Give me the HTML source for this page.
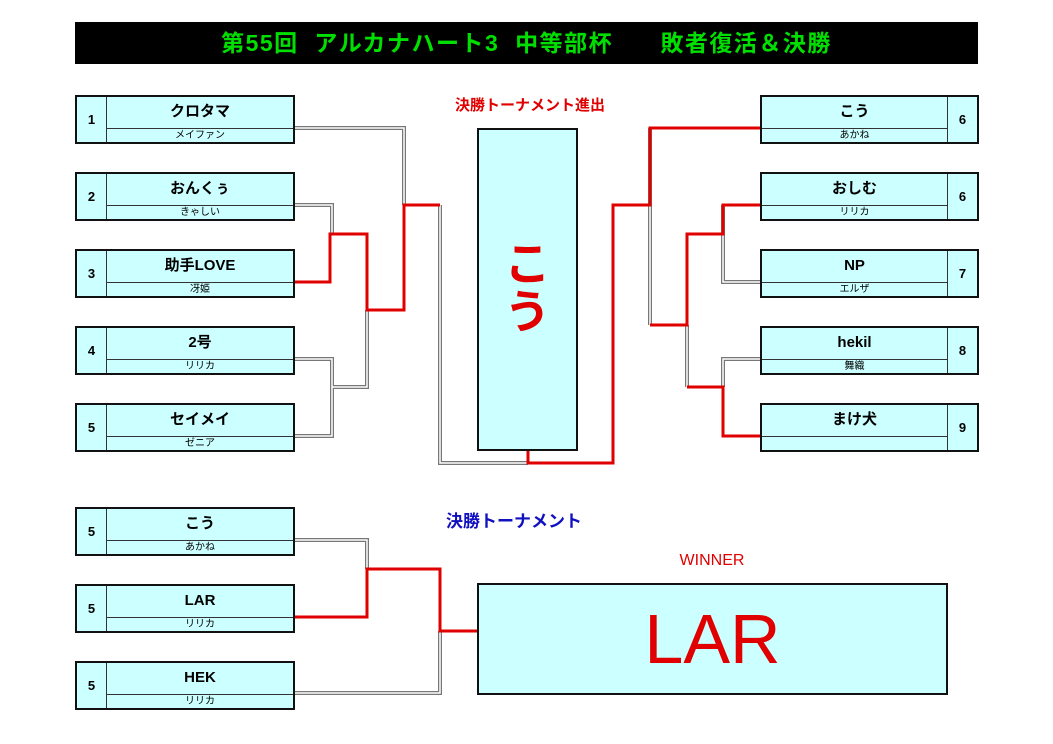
<!DOCTYPE html>
<html><head><meta charset="utf-8"><style>
body{margin:0;width:1053px;height:744px;background:#fff;position:relative;overflow:hidden;font-family:"Liberation Sans","Noto Sans CJK JP",sans-serif;}
.b{position:absolute;width:220px;height:49px;box-sizing:border-box;border:2px solid #111;background:#ccffff;}
.n{position:absolute;top:0;width:29px;height:45px;line-height:45px;text-align:center;font-weight:bold;font-size:13px;}
.L .n{left:0;border-right:1px solid #333;}
.R .n{right:0;border-left:1px solid #333;}
.nm{position:absolute;top:2px;height:28px;line-height:26px;text-align:center;font-weight:bold;font-size:15px;}
.L .nm,.L .s{left:30px;right:0}
.R .nm,.R .s{left:0;right:30px}
.s{position:absolute;top:31px;height:14px;border-top:1px solid #333;font-size:10px;line-height:14px;text-align:center;}
.t{position:absolute;}
svg{position:absolute;left:0;top:0}
</style></head><body>
<div class="t" style="left:75px;top:22px;width:903px;height:42px;background:#000;"></div>
<div class="t" style="left:75px;top:22px;width:903px;height:42px;line-height:42px;text-align:center;color:#00e000;font-weight:bold;font-size:23px;letter-spacing:1.5px;white-space:pre;">第55回  アルカナハート3  中等部杯      敗者復活＆決勝</div>

<svg width="1053" height="744">
<g fill="none" stroke-linejoin="miter">
<g stroke="#777" stroke-width="4">
<path d="M295 128H404V205"/>
<path d="M295 205H332V234"/>
<path d="M295 359H332V436H295"/>
<path d="M332 387H367V310"/>
<path d="M440 205V463H528"/>
<path d="M650 128V325"/>
<path d="M723 205V282H760"/>
<path d="M687 325V387"/>
<path d="M760 359H723V387"/>
<path d="M295 540H367V569"/>
<path d="M295 693H440V631"/>
</g>
<g stroke="#fff" stroke-width="1.5">
<path d="M295 128H404V205"/>
<path d="M295 205H332V234"/>
<path d="M295 359H332V436H295"/>
<path d="M332 387H367V310"/>
<path d="M440 205V463H528"/>
<path d="M650 128V325"/>
<path d="M723 205V282H760"/>
<path d="M687 325V387"/>
<path d="M760 359H723V387"/>
<path d="M295 540H367V569"/>
<path d="M295 693H440V631"/>
</g>
<g stroke="#e00000" stroke-width="3">
<path d="M295 282H330V234H367V310H404V205H440"/>
<path d="M528 450V463H613V205H650V128H760"/>
<path d="M650 325H687V234H723V205H760"/>
<path d="M687 387H723V436H760"/>
<path d="M295 617H367V569H440V631H477"/>
</g>
</g>
</svg>

<div class="b L" style="left:75px;top:95px"><div class="n">1</div><div class="nm">クロタマ</div><div class="s">メイファン</div></div>
<div class="b L" style="left:75px;top:172px"><div class="n">2</div><div class="nm">おんくぅ</div><div class="s">きゃしい</div></div>
<div class="b L" style="left:75px;top:249px"><div class="n">3</div><div class="nm">助手LOVE</div><div class="s">冴姫</div></div>
<div class="b L" style="left:75px;top:326px"><div class="n">4</div><div class="nm">2号</div><div class="s">リリカ</div></div>
<div class="b L" style="left:75px;top:403px"><div class="n">5</div><div class="nm">セイメイ</div><div class="s">ゼニア</div></div>

<div class="b R" style="left:760px;top:95px;width:219px"><div class="n">6</div><div class="nm">こう</div><div class="s">あかね</div></div>
<div class="b R" style="left:760px;top:172px;width:219px"><div class="n">6</div><div class="nm">おしむ</div><div class="s">リリカ</div></div>
<div class="b R" style="left:760px;top:249px;width:219px"><div class="n">7</div><div class="nm">NP</div><div class="s">エルザ</div></div>
<div class="b R" style="left:760px;top:326px;width:219px"><div class="n">8</div><div class="nm">hekil</div><div class="s">舞織</div></div>
<div class="b R" style="left:760px;top:403px;width:219px"><div class="n">9</div><div class="nm">まけ犬</div><div class="s"></div></div>

<div class="b L" style="left:75px;top:507px"><div class="n">5</div><div class="nm">こう</div><div class="s">あかね</div></div>
<div class="b L" style="left:75px;top:584px"><div class="n">5</div><div class="nm">LAR</div><div class="s">リリカ</div></div>
<div class="b L" style="left:75px;top:661px"><div class="n">5</div><div class="nm">HEK</div><div class="s">リリカ</div></div>

<div class="t" style="left:430px;top:94px;width:200px;text-align:center;color:#e00000;font-weight:bold;font-size:15px;">決勝トーナメント進出</div>
<div class="t" style="left:477px;top:128px;width:101px;height:323px;box-sizing:border-box;border:2px solid #111;background:#ccffff;"></div>
<div class="t" style="left:477px;top:240px;width:101px;text-align:center;color:#e00000;font-weight:bold;font-size:46px;line-height:48px;">こ<br>う</div>
<div class="t" style="left:446px;top:507px;color:#1010c0;font-weight:bold;font-size:17px;">決勝トーナメント</div>
<div class="t" style="left:612px;top:552px;width:200px;text-align:center;color:#e00000;font-size:16px;">WINNER</div>
<div class="t" style="left:477px;top:583px;width:471px;height:112px;box-sizing:border-box;border:2px solid #111;background:#ccffff;text-align:center;color:#e00000;font-size:70px;line-height:108px;">LAR</div>
</body></html>
